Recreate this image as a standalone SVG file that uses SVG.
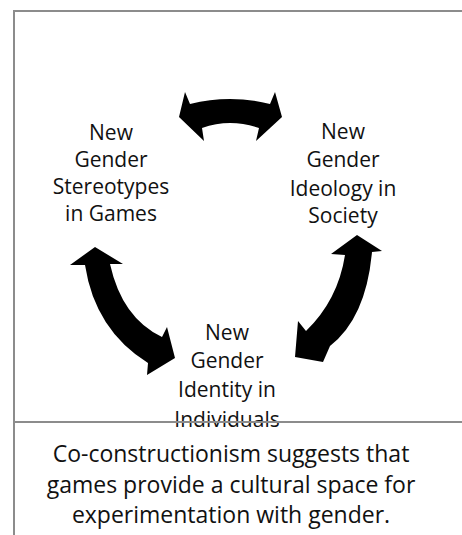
<svg xmlns="http://www.w3.org/2000/svg" width="462" height="535" viewBox="0 0 462 535">
<style>
.frame{stroke:#8c8c8c;stroke-width:2;fill:none}
.node{font-family:"Open Sans","Liberation Sans",sans-serif;font-size:21px;fill:#111;text-anchor:middle}
.cap{font-family:"Open Sans","Liberation Sans",sans-serif;font-size:23px;fill:#111;text-anchor:middle}
.arrow{fill:#000;stroke:none}
</style>
<rect width="462" height="535" fill="#fff"/>
<g id="frame">
<line class="frame" x1="14" y1="11" x2="462" y2="11"/>
<line class="frame" x1="14" y1="10" x2="14" y2="535"/>
</g>
<g id="connectors">
<path class="arrow" d="M179,117 L185,92 L190,104 Q230,94 270,104 L275,92 L282,117 L256,141 L259,128 Q230,118 202,128 L204,141 Z"/>
<path class="arrow" d="M95,247 L123,264 L110,264 Q122,318 162,337 L167,327 L175,358 L147,375 L148,363 Q95,330 85,265 L70,265 Z"/>
<path class="arrow" d="M357,235 L382,251 L372,252 Q366,318 330,346 L323,362 L295,357 L298,321 L306,331 Q338,300 345,255 L331,254 Z"/>
</g>
<g id="node-stereotypes">
<text class="node" x="111" y="140">New</text>
<text class="node" x="111" y="167">Gender</text>
<text class="node" x="111" y="194">Stereotypes</text>
<text class="node" x="111" y="221">in Games</text>
</g>
<g id="node-ideology">
<text class="node" x="343" y="139">New</text>
<text class="node" x="343" y="167">Gender</text>
<text class="node" x="343" y="196">Ideology in</text>
<text class="node" x="343" y="223">Society</text>
</g>
<g id="node-identity">
<text class="node" x="227" y="340">New</text>
<text class="node" x="227" y="368">Gender</text>
<text class="node" x="227" y="397">Identity in</text>
<text class="node" x="227" y="427">Individuals</text>
</g>
<g id="divider">
<line class="frame" x1="14" y1="422" x2="462" y2="422"/>
</g>
<g id="caption">
<text class="cap" x="231" y="462">Co-constructionism suggests that</text>
<text class="cap" x="231" y="493">games provide a cultural space for</text>
<text class="cap" x="231" y="523">experimentation with gender.</text>
</g>
</svg>
